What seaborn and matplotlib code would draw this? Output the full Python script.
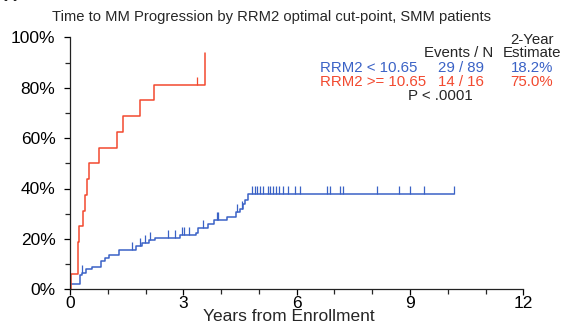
import matplotlib
matplotlib.use('Agg')
import matplotlib.pyplot as plt
import numpy as np
import pandas as pd
import seaborn as sns

# Kaplan-Meier step points (years, % progressed)
red_years = [0, 0.02, 0.22, 0.25, 0.35, 0.40, 0.46, 0.49, 0.78, 1.25, 1.41, 1.86, 2.23, 3.58]
red_pct = [0, 6.25, 18.75, 25.0, 31.25, 37.5, 43.75, 50.0, 56.25, 62.5, 68.75, 75.0, 81.25, 93.8]
red_censor = [3.36]

blue_years = [0, 0.01, 0.26, 0.33, 0.42, 0.57, 0.81, 0.93, 1.04, 1.31, 1.75, 1.90, 2.10, 2.25,
              2.91, 3.34, 3.40, 3.66, 3.81, 4.15, 4.40, 4.50, 4.57, 4.64, 4.72, 10.16]
blue_pct = [0, 2.2, 5.6, 6.5, 7.9, 8.9, 11.2, 12.6, 13.6, 15.7, 17.1, 18.4, 19.4, 20.5,
            21.4, 22.3, 24.5, 26.0, 27.4, 28.7, 30.7, 32.0, 34.0, 35.6, 37.7, 37.7]
blue_censor = [0.33, 1.63, 1.85, 1.98, 2.12, 2.6, 2.78, 2.96, 3.02, 3.14, 3.53, 3.88, 3.93,
               4.42, 4.55, 4.82, 4.9, 4.95, 5.03, 5.12, 5.25, 5.3, 5.38, 5.45, 5.52, 5.63,
               5.78, 5.96, 6.1, 6.8, 6.87, 7.16, 7.23, 8.14, 8.71, 8.99, 9.36, 10.16]

groups = ['RRM2 < 10.65', 'RRM2 >= 10.65']
events_n = ['29 / 89', '14 / 16']
estimates = ['18.2%', '75.0%']
x_ticks = [0, 3, 6, 9, 12]
y_ticks = [0, 20, 40, 60, 80, 100]

blue = '#3a62c6'
red = '#f2492f'

sns.set_style('ticks')
plt.rcParams['font.family'] = ['Liberation Sans', 'DejaVu Sans']

fig = plt.figure(figsize=(5.64, 3.31), dpi=100)
ax = fig.add_axes([70 / 564, 1 - 289.3 / 331, 453.3 / 564, 252 / 331])


def censor_levels(years, pct, cens):
    idx = np.searchsorted(years, cens, side='right') - 1
    return [pct[i] for i in idx]


for yrs, pct, cens, col in [(blue_years, blue_pct, blue_censor, blue),
                            (red_years, red_pct, red_censor, red)]:
    df = pd.DataFrame({'t': yrs, 'p': pct})
    sns.lineplot(data=df, x='t', y='p', color=col, lw=1.1, drawstyle='steps-post',
                 ax=ax, estimator=None, sort=False)
    cdf = pd.DataFrame({'t': cens, 'p': censor_levels(yrs, pct, cens)})
    sns.scatterplot(data=cdf, x='t', y='p', marker=2, s=30, color=col, linewidth=0.9,
                    ax=ax, zorder=3)

ax.set_xlim(0, 12)
ax.set_ylim(0, 100)
ax.set_xticks(x_ticks)
ax.set_xticks(range(13), minor=True)
ax.set_yticks(y_ticks)
ax.set_yticks(range(10, 100, 20), minor=True)
ax.set_yticklabels([f'{v}%' for v in y_ticks])
ax.tick_params(which='major', length=4.5, width=0.9, labelsize=12.5, colors='black')
ax.tick_params(axis='y', which='major', pad=6)
ax.tick_params(axis='x', which='major', pad=0)
ax.tick_params(which='minor', length=3.5, width=0.9)
for s in ['top', 'right']:
    ax.spines[s].set_visible(False)
for s in ['left', 'bottom']:
    ax.spines[s].set_linewidth(0.9)
    ax.spines[s].set_color('#222222')
ax.set_xlabel('Years from Enrollment', fontsize=12.5)
ax.xaxis.set_label_coords(0.482, -0.08)
ax.set_ylabel('')

fig.text(272 / 564, 1 - 17 / 331, 'Time to MM Progression by RRM2 optimal cut-point, SMM patients',
         ha='center', va='center', fontsize=10.6)
fig.text(4 / 564, 1.01, 'A', ha='left', va='center', fontsize=13, fontweight='bold')

fig.text(532 / 564, 1 - 40 / 331, '2-Year', ha='center', va='center', fontsize=10.8)
fig.text(459 / 564, 1 - 53 / 331, 'Events / N', ha='center', va='center', fontsize=10.8)
fig.text(532 / 564, 1 - 53 / 331, 'Estimate', ha='center', va='center', fontsize=10.8)
for i, col in enumerate([blue, red]):
    yy = 1 - (68 + 13.5 * i) / 331
    fig.text(320 / 564, yy, groups[i], ha='left', va='center', fontsize=10.8, color=col)
    fig.text(461 / 564, yy, events_n[i], ha='center', va='center', fontsize=10.8, color=col)
    fig.text(532 / 564, yy, estimates[i], ha='center', va='center', fontsize=10.8, color=col)
fig.text(440 / 564, 1 - 96 / 331, 'P < .0001', ha='center', va='center', fontsize=10.8)

fig.savefig('out.png', dpi=100)
